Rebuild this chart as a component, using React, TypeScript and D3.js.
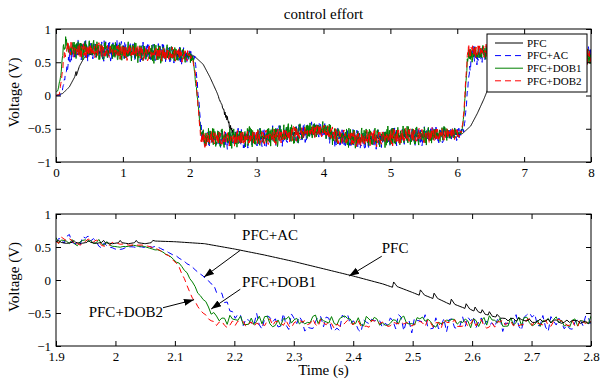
import { useEffect, useRef } from 'react'
import * as d3 from 'd3'

const W = 600
const H = 383
const FONT = '"Liberation Serif", "Times New Roman", serif'

// key points: [time (s), voltage (V), noise half-width (V)]
const TOP_PFC = [
  [0, 0, 0], [0.1, 0.03, 0], [0.2, 0.13, 0], [0.28, 0.28, 0], [0.3, 0.36, 0], [0.305, 0.3, 0],
  [0.35, 0.44, 0], [0.41, 0.55, 0], [0.47, 0.61, 0.02], [0.7, 0.66, 0.03], [1.5, 0.63, 0.03],
  [2.0, 0.6, 0.03], [2.07, 0.59, 0], [2.2, 0.47, 0], [2.3, 0.28, 0], [2.4, 0.06, 0],
  [2.5, -0.2, 0.04], [2.6, -0.46, 0.06], [2.66, -0.6, 0.05], [3, -0.64, 0.04], [3.95, -0.54, 0.04],
  [4.5, -0.65, 0.04], [6.0, -0.58, 0.03], [6.07, -0.58, 0], [6.2, -0.46, 0], [6.3, -0.27, 0],
  [6.4, -0.05, 0], [6.5, 0.2, 0], [6.6, 0.45, 0], [6.67, 0.6, 0.03], [7, 0.66, 0.03], [8, 0.6, 0.03],
]
const TOP_AC = [
  [0, 0, 0], [0.06, 0, 0], [0.1, 0.1, 0.02], [0.15, 0.35, 0.05], [0.2, 0.58, 0.13], [0.25, 0.68, 0.18],
  [1, 0.67, 0.18], [1.5, 0.64, 0.17], [2.0, 0.6, 0.15], [2.08, 0.56, 0.06], [2.12, 0.1, 0.06],
  [2.16, -0.45, 0.08], [2.2, -0.66, 0.17], [3, -0.64, 0.18], [3.6, -0.58, 0.18], [3.97, -0.52, 0.15],
  [4.15, -0.62, 0.18], [4.5, -0.67, 0.18], [5, -0.63, 0.18], [5.5, -0.6, 0.17], [6.0, -0.58, 0.13],
  [6.1, -0.52, 0.04], [6.14, -0.1, 0.05], [6.18, 0.35, 0.08], [6.22, 0.6, 0.16], [7, 0.66, 0.17],
  [8, 0.58, 0.17],
]
const TOP_DOB1 = [
  [0, 0.05, 0], [0.03, 0.08, 0.01], [0.07, 0.3, 0.03], [0.11, 0.7, 0.1], [0.14, 0.8, 0.13],
  [0.2, 0.7, 0.17], [1, 0.66, 0.17], [1.5, 0.63, 0.17], [2.0, 0.6, 0.13], [2.05, 0.55, 0.04],
  [2.1, 0.1, 0.04], [2.14, -0.3, 0.04], [2.17, -0.58, 0.07], [2.2, -0.64, 0.17], [3, -0.63, 0.19],
  [3.6, -0.57, 0.18], [3.97, -0.5, 0.13], [4.15, -0.6, 0.17], [4.5, -0.65, 0.17], [5, -0.62, 0.19],
  [5.5, -0.6, 0.17], [6.0, -0.57, 0.11], [6.07, -0.55, 0.03], [6.1, -0.3, 0.04], [6.13, 0.2, 0.05],
  [6.16, 0.62, 0.13], [7, 0.66, 0.17], [8, 0.58, 0.17],
]
const TOP_DOB2 = [
  [0, 0, 0], [0.05, 0.02, 0], [0.09, 0.3, 0.03], [0.13, 0.65, 0.11], [0.17, 0.72, 0.14],
  [0.3, 0.68, 0.14], [1, 0.66, 0.14], [1.5, 0.63, 0.14], [2.0, 0.6, 0.11], [2.04, 0.55, 0.03],
  [2.09, 0.3, 0.03], [2.12, -0.1, 0.03], [2.15, -0.5, 0.05], [2.17, -0.64, 0.11], [2.2, -0.66, 0.14],
  [3, -0.64, 0.14], [3.6, -0.58, 0.14], [3.97, -0.52, 0.11], [4.15, -0.6, 0.14], [4.5, -0.66, 0.14],
  [5, -0.63, 0.15], [5.5, -0.6, 0.14], [6.0, -0.58, 0.11], [6.06, -0.56, 0.03], [6.1, -0.25, 0.04],
  [6.13, 0.3, 0.05], [6.16, 0.68, 0.13], [7, 0.66, 0.14], [8, 0.58, 0.14],
]

const BOT_PFC = [
  [1.9, 0.58, 0], [1.905, 0.6, 0], [1.908, 0.57, 0], [1.918, 0.555, 0], [1.927, 0.57, 0],
  [1.93, 0.6, 0], [1.933, 0.57, 0], [1.943, 0.555, 0], [1.952, 0.57, 0], [1.955, 0.6, 0],
  [1.958, 0.57, 0], [1.968, 0.555, 0], [1.977, 0.57, 0], [1.98, 0.6, 0], [1.983, 0.565, 0],
  [1.995, 0.55, 0], [2.005, 0.565, 0], [2.008, 0.6, 0], [2.011, 0.565, 0], [2.022, 0.55, 0],
  [2.032, 0.565, 0], [2.035, 0.6, 0], [2.038, 0.565, 0], [2.05, 0.55, 0], [2.06, 0.565, 0],
  [2.063, 0.6, 0], [2.067, 0.59, 0], [2.1, 0.58, 0], [2.15, 0.55, 0], [2.2, 0.47, 0],
  [2.25, 0.38, 0], [2.3, 0.28, 0], [2.35, 0.17, 0], [2.4, 0.06, 0], [2.45, -0.06, 0],
  [2.466, -0.11, 0], [2.468, -0.03, 0], [2.474, -0.1, 0], [2.5, -0.19, 0], [2.511, -0.23, 0],
  [2.513, -0.15, 0], [2.52, -0.23, 0], [2.534, -0.28, 0], [2.536, -0.2, 0], [2.542, -0.28, 0],
  [2.563, -0.37, 0], [2.565, -0.29, 0], [2.571, -0.37, 0], [2.588, -0.43, 0], [2.59, -0.36, 0],
  [2.596, -0.44, 0], [2.603, -0.47, 0], [2.605, -0.41, 0], [2.61, -0.48, 0], [2.615, -0.5, 0],
  [2.617, -0.45, 0], [2.622, -0.52, 0], [2.627, -0.53, 0], [2.629, -0.48, 0], [2.634, -0.55, 0],
  [2.64, -0.56, 0], [2.642, -0.52, 0], [2.648, -0.58, 0], [2.66, -0.6, 0.04], [2.8, -0.64, 0.04],
]
const BOT_AC = [
  [1.9, 0.6, 0.12], [1.98, 0.58, 0.12], [1.99, 0.5, 0.02], [2.005, 0.45, 0.01], [2.02, 0.5, 0.01],
  [2.07, 0.5, 0.01], [2.09, 0.42, 0.01], [2.108, 0.33, 0.01], [2.125, 0.22, 0.01], [2.142, 0.1, 0.01],
  [2.155, 0, 0.02], [2.164, -0.1, 0.08], [2.18, -0.3, 0.12], [2.198, -0.45, 0.12], [2.21, -0.6, 0.14],
  [2.23, -0.65, 0.17], [2.8, -0.65, 0.17],
]
const BOT_DOB1 = [
  [1.9, 0.58, 0.07], [1.98, 0.56, 0.06], [2.0, 0.5, 0.01], [2.03, 0.52, 0.01], [2.053, 0.5, 0.01],
  [2.075, 0.44, 0.01], [2.097, 0.33, 0.02], [2.11, 0.22, 0.05], [2.12, 0.1, 0.05], [2.137, -0.15, 0.06],
  [2.154, -0.38, 0.06], [2.164, -0.53, 0.06], [2.175, -0.58, 0.06], [2.2, -0.62, 0.1], [2.8, -0.64, 0.11],
]
const BOT_DOB2 = [
  [1.9, 0.6, 0.07], [1.98, 0.57, 0.07], [2.0, 0.54, 0.02], [2.047, 0.53, 0.01], [2.07, 0.47, 0.01],
  [2.087, 0.38, 0.01], [2.1, 0.28, 0.015], [2.108, 0.18, 0.015], [2.12, -0.08, 0.02], [2.13, -0.28, 0.02],
  [2.145, -0.47, 0.02], [2.155, -0.57, 0.02], [2.167, -0.66, 0.03], [2.18, -0.66, 0.08], [2.8, -0.66, 0.08],
]

// hand-typed jitter pattern for the measurement noise
const JITTER = [
  0.62, -0.41, 0.88, -0.93, 0.15, 0.47, -0.72, 0.33, -0.08, 0.95,
  -0.57, 0.21, -0.86, 0.69, -0.12, 0.38, -0.99, 0.54, 0.07, -0.66,
  0.81, -0.29, 0.44, -0.78, 0.02, 0.91, -0.35, -0.61, 0.73, -0.18,
  0.27, -0.84, 0.58, -0.47, 0.97, -0.05, -0.69, 0.36, 0.12, -0.92,
  0.64, -0.24, 0.49, -0.53, 0.86, -0.74, 0.18, -0.39, 0.77, -0.97,
  0.31, 0.05, -0.63, 0.92, -0.15, 0.41, -0.81, 0.56, -0.32, 0.69,
  -0.88, 0.24, 0.83, -0.51, -0.07, 0.45, -0.76, 0.99, -0.27, 0.11,
  -0.59, 0.72, -0.43, 0.35, -0.95, 0.6, -0.02, 0.79, -0.68, 0.26,
  -0.37, 0.89, -0.14, 0.52, -0.83, 0.08, 0.67, -0.49, 0.94, -0.21,
  -0.71, 0.39, 0.16, -0.89, 0.74, -0.31, 0.57,
]

const SERIES_NAMES = ['PFC', 'PFC+AC', 'PFC+DOB1', 'PFC+DOB2']
const SERIES_COLORS = ['#000000', '#0000ff', '#008000', '#ff0000']
const SERIES_DASH = [null, '6,4', null, '6,4']

const TOP_X_TICKS = [0, 1, 2, 3, 4, 5, 6, 7, 8]
const BOT_X_TICKS = [1.9, 2, 2.1, 2.2, 2.3, 2.4, 2.5, 2.6, 2.7, 2.8]
const Y_TICKS = [-1, -0.5, 0, 0.5, 1]

// arrow annotations in data units of the lower plot
const NOTES = [
  { label: 'PFC+AC', tx: 2.213, ty: 0.61, fx: 2.21, fy: 0.45, hx: 2.149, hy: 0.045 },
  { label: 'PFC+DOB1', tx: 2.213, ty: -0.11, fx: 2.21, fy: -0.14, hx: 2.161, hy: -0.44 },
  { label: 'PFC+DOB2', tx: 1.955, ty: -0.56, fx: 2.08, fy: -0.42, hx: 2.132, hy: -0.3 },
  { label: 'PFC', tx: 2.448, ty: 0.41, fx: 2.448, fy: 0.36, hx: 2.393, hy: 0.06 },
]

function buildSeries(keys, step, offset) {
  const N = JITTER.length
  const t0 = keys[0][0]
  const t1 = keys[keys.length - 1][0]
  const bis = d3.bisector((k) => k[0]).right
  const at = (t) => {
    const i = Math.max(0, Math.min(keys.length - 2, bis(keys, t) - 1))
    const a = keys[i]
    const b = keys[i + 1]
    const f = Math.max(0, Math.min(1, (t - a[0]) / (b[0] - a[0])))
    return [a[1] + (b[1] - a[1]) * f, a[2] + (b[2] - a[2]) * f]
  }
  const pts = []
  const n = Math.round((t1 - t0) / step)
  for (let i = 0; i <= n; i++) {
    const t = t0 + i * step
    const [v, amp] = at(t)
    const j = JITTER[(i * 13 + offset) % N] * 0.75 + JITTER[(Math.floor(i / 5) + offset * 3) % N] * 0.25
    pts.push([t, v + j * amp])
  }
  keys.forEach((k) => { if (k[2] === 0) pts.push([k[0], k[1]]) })
  pts.sort((a, b) => a[0] - b[0])
  return pts
}

function frame(g, x, y, xTicks, iw, ih) {
  const fmt = (d) => String(d).replace('-', '\u2212')
  const style = (ax) => {
    ax.attr('font-family', FONT).attr('font-size', 13)
    ax.select('.domain').remove()
    ax.selectAll('.tick line').attr('stroke', '#000')
    ax.selectAll('text').attr('fill', '#000')
  }
  g.append('g').attr('transform', `translate(0,${ih})`)
    .call(d3.axisBottom(x).tickValues(xTicks).tickSizeInner(-5).tickSizeOuter(0).tickPadding(6).tickFormat(fmt))
    .call(style)
  g.append('g')
    .call(d3.axisTop(x).tickValues(xTicks).tickSizeInner(-5).tickSizeOuter(0).tickFormat(() => ''))
    .call(style)
  g.append('g')
    .call(d3.axisLeft(y).tickValues(Y_TICKS).tickSizeInner(-5).tickSizeOuter(0).tickPadding(5).tickFormat(fmt))
    .call(style)
  g.append('g').attr('transform', `translate(${iw},0)`)
    .call(d3.axisRight(y).tickValues(Y_TICKS).tickSizeInner(-5).tickSizeOuter(0).tickFormat(() => ''))
    .call(style)
  g.append('rect').attr('width', iw).attr('height', ih)
    .attr('fill', 'none').attr('stroke', '#000').attr('stroke-width', 1)
  g.append('text')
    .attr('transform', `translate(-37,${ih / 2 - 3}) rotate(-90)`)
    .attr('text-anchor', 'middle').attr('font-family', FONT).attr('font-size', 15)
    .text('Voltage (V)')
}

function drawLines(g, id, sets, order, x, y, iw, ih) {
  g.append('clipPath').attr('id', id).append('rect').attr('width', iw).attr('height', ih)
  const line = d3.line().x((d) => x(d[0])).y((d) => y(d[1]))
  const lg = g.append('g').attr('clip-path', `url(#${id})`)
  order.forEach((s) => {
    lg.append('path')
      .datum(sets[s])
      .attr('fill', 'none')
      .attr('stroke', SERIES_COLORS[s])
      .attr('stroke-width', 1)
      .attr('stroke-dasharray', SERIES_DASH[s])
      .attr('d', line)
  })
}

export default function App() {
  const svgRef = useRef(null)

  useEffect(() => {
    const svg = d3.select(svgRef.current)
    svg.selectAll('*').remove()

    const left = 56
    const iw = 591 - left

    // upper plot
    const top = { y0: 29, y1: 162 }
    const x1 = d3.scaleLinear().domain([0, 8]).range([0, iw])
    const y1 = d3.scaleLinear().domain([-1, 1]).range([top.y1 - top.y0, 0])
    const g1 = svg.append('g').attr('transform', `translate(${left},${top.y0})`)
    const topSets = [
      buildSeries(TOP_PFC, 0.006, 3),
      buildSeries(TOP_AC, 0.006, 17),
      buildSeries(TOP_DOB1, 0.006, 41),
      buildSeries(TOP_DOB2, 0.006, 66),
    ]
    drawLines(g1, 'clip-top', topSets, [0, 1, 2, 3], x1, y1, iw, top.y1 - top.y0)
    frame(g1, x1, y1, TOP_X_TICKS, iw, top.y1 - top.y0)

    svg.append('text')
      .attr('x', left + iw / 2).attr('y', 19)
      .attr('text-anchor', 'middle').attr('font-family', FONT).attr('font-size', 15)
      .text('control effort')

    // legend
    const lx = 487
    const ly = 34
    const leg = svg.append('g')
    leg.append('rect').attr('x', lx).attr('y', ly).attr('width', 100).attr('height', 58)
      .attr('fill', '#fff').attr('stroke', '#000').attr('stroke-width', 1)
    SERIES_NAMES.forEach((name, i) => {
      const yy = ly + 9 + i * 12.6
      leg.append('line').attr('x1', lx + 8).attr('x2', lx + 36).attr('y1', yy).attr('y2', yy)
        .attr('stroke', SERIES_COLORS[i]).attr('stroke-width', 1)
        .attr('stroke-dasharray', SERIES_DASH[i])
      leg.append('text').attr('x', lx + 40).attr('y', yy).attr('dy', '0.35em')
        .attr('font-family', FONT).attr('font-size', 11).text(name)
    })

    // lower plot
    const bot = { y0: 214, y1: 346 }
    const x2 = d3.scaleLinear().domain([1.9, 2.8]).range([0, iw])
    const y2 = d3.scaleLinear().domain([-1, 1]).range([bot.y1 - bot.y0, 0])
    const g2 = svg.append('g').attr('transform', `translate(${left},${bot.y0})`)
    const botSets = [
      buildSeries(BOT_PFC, 0.0045, 7),
      buildSeries(BOT_AC, 0.0045, 29),
      buildSeries(BOT_DOB1, 0.0045, 53),
      buildSeries(BOT_DOB2, 0.0045, 80),
    ]
    drawLines(g2, 'clip-bot', botSets, [1, 2, 3, 0], x2, y2, iw, bot.y1 - bot.y0)
    frame(g2, x2, y2, BOT_X_TICKS, iw, bot.y1 - bot.y0)

    g2.append('text')
      .attr('x', iw / 2).attr('y', 375 - bot.y0)
      .attr('text-anchor', 'middle').attr('font-family', FONT).attr('font-size', 15)
      .text('Time (s)')

    const defs = svg.append('defs')
    defs.append('marker').attr('id', 'arrowhead')
      .attr('viewBox', '0 0 10 10').attr('refX', 10).attr('refY', 5)
      .attr('markerWidth', 10).attr('markerHeight', 10).attr('markerUnits', 'userSpaceOnUse')
      .attr('orient', 'auto')
      .append('path').attr('d', 'M0,1.5 L10,5 L0,8.5 Z').attr('fill', '#000')

    NOTES.forEach((n) => {
      g2.append('line')
        .attr('x1', x2(n.fx)).attr('y1', y2(n.fy))
        .attr('x2', x2(n.hx)).attr('y2', y2(n.hy))
        .attr('stroke', '#000').attr('stroke-width', 1)
        .attr('marker-end', 'url(#arrowhead)')
      g2.append('text')
        .attr('x', x2(n.tx)).attr('y', y2(n.ty))
        .attr('font-family', FONT).attr('font-size', 15)
        .text(n.label)
    })
  }, [])

  return (
    <div style={{ position: 'absolute', left: 0, top: 0 }}>
      <svg ref={svgRef} width={W} height={H} style={{ display: 'block', background: '#fff' }} />
    </div>
  )
}
